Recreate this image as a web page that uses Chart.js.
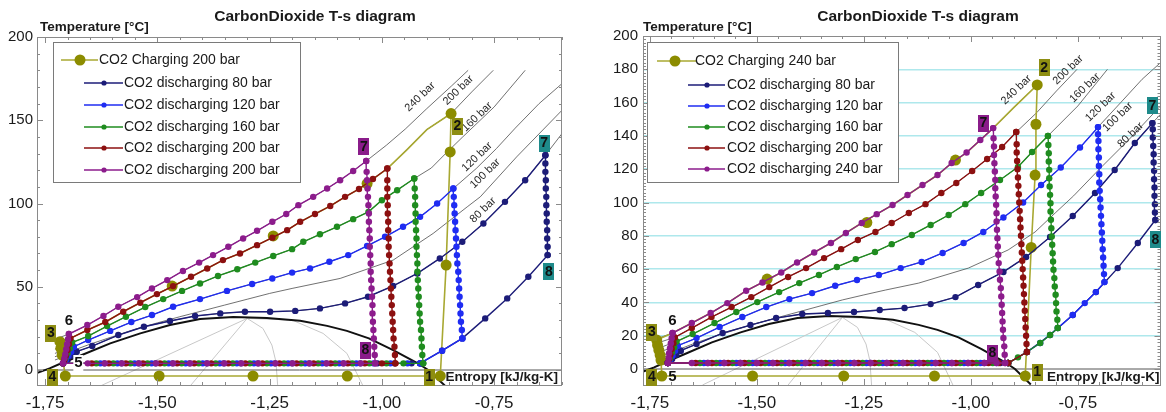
<!DOCTYPE html>
<html>
<head>
<meta charset="utf-8">
<title>CarbonDioxide T-s diagram</title>
<style>
  html, body { margin: 0; padding: 0; background: #fff; }
  #wrap { position: relative; width: 1166px; height: 412px; overflow: hidden; }
  canvas { position: absolute; top: 0; }
  #cL { left: 0; }
  #cR { left: 583px; }
</style>
<script src="https://cdn.jsdelivr.net/npm/chart.js@4.4.1/dist/chart.umd.min.js"></script>
</head>
<body>
<div id="wrap">
  <canvas id="cL" width="583" height="412"></canvas>
  <canvas id="cR" width="583" height="412"></canvas>
</div>
<script>
// ------------------------------------------------------------------
// Axis ticks
// ------------------------------------------------------------------
const xTickValues = [-1.75, -1.5, -1.25, -1.0, -0.75];
const yTickValuesL = [0, 50, 100, 150, 200];
const yTickValuesR = [0, 20, 40, 60, 80, 100, 120, 140, 160, 180, 200];

// ------------------------------------------------------------------
// Shared property lines (entropy kJ/kg-K, temperature °C)
// ------------------------------------------------------------------
const saturationDome = [[-1.77,-2],[-1.74,1],[-1.71,4.5],[-1.668,9],[-1.605,16],[-1.538,22],[-1.472,27],
  [-1.405,30.6],[-1.331,31.8],[-1.256,31.2],[-1.182,29.6],[-1.122,26.5],[-1.078,23.5],[-1.029,19],
  [-0.975,12],[-0.921,4.2],[-0.897,0],[-0.86,-9.3]];
const qualityLines = [
  [[-1.627,-9.6],[-1.30,31]],
  [[-1.427,-9.6],[-1.30,31]],
  [[-1.232,-9.6],[-1.236,5],[-1.245,15],[-1.265,25],[-1.30,31]],
  [[-1.30,31],[-1.20,30],[-1.131,22],[-1.078,10],[-1.042,-9.6]]
];
const zeroLine = [[-1.77,0],[-0.55,0]];

// ------------------------------------------------------------------
// Left diagram: charging at 200 bar
// ------------------------------------------------------------------
const L_EVAP_T = 4;
const L_GOLD_T = -3.6;

const lPurpleBottomS = [-1.710,-1.655,-1.617,-1.579,-1.541,-1.503,-1.465,-1.427,-1.389,-1.351,-1.313,-1.275,-1.237,-1.199,-1.161,-1.123,-1.085,-1.047,-1.015];
const lRedBottomS    = [-1.710,-1.646,-1.608,-1.570,-1.532,-1.494,-1.456,-1.418,-1.380,-1.342,-1.304,-1.266,-1.228,-1.190,-1.152,-1.114,-1.076,-1.038,-1.000,-0.970];
const lGreenBottomS  = [-1.710,-1.636,-1.598,-1.560,-1.522,-1.484,-1.446,-1.408,-1.370,-1.332,-1.294,-1.256,-1.218,-1.180,-1.142,-1.104,-1.066,-1.028,-0.990,-0.952,-0.908];
const lBlueBottomS   = [-1.710,-1.627,-1.589,-1.551,-1.513,-1.475,-1.437,-1.399,-1.361,-1.323,-1.285,-1.247,-1.209,-1.171,-1.133,-1.095,-1.057,-1.019,-0.981,-0.943,-0.915];
const lNavyBottomS   = [-1.710,-1.618,-1.580,-1.542,-1.504,-1.466,-1.428,-1.390,-1.352,-1.314,-1.276,-1.238,-1.200,-1.162,-1.124,-1.086,-1.048,-1.010,-0.972,-0.934,-0.915];

const lBlueLow = [[-0.915,4],[-0.866,11.6],[-0.821,19]];
const lNavyLow = [[-0.915,4],[-0.866,11.6],[-0.821,19],[-0.770,31],[-0.721,43],[-0.674,56],[-0.631,69]];

const lPurpleVert = [[-1.015,4],[-1.016,9],[-1.017,14],[-1.018,19],[-1.019,24],[-1.020,29],[-1.021,34],[-1.021,39],[-1.022,44],[-1.023,49],[-1.024,54],[-1.025,59],[-1.025,64],[-1.026,69],[-1.027,74],[-1.027,79],[-1.028,84],[-1.029,89],[-1.029,94],[-1.030,99],[-1.031,104],[-1.032,109],[-1.033,114],[-1.034,119],[-1.035,125.5]];
const lRedVert = [[-0.970,4],[-0.971,9],[-0.972,14],[-0.974,19],[-0.975,24],[-0.976,29],[-0.977,34],[-0.978,39],[-0.979,44],[-0.980,49],[-0.981,54],[-0.982,59],[-0.983,64],[-0.984,69],[-0.985,74],[-0.985,79],[-0.986,84],[-0.986,89],[-0.987,94],[-0.987,99],[-0.988,104],[-0.988,109],[-0.988,114],[-0.988,121]];
const lGreenVert = [[-0.908,4],[-0.910,9],[-0.911,14],[-0.912,19],[-0.913,24],[-0.915,29],[-0.916,34],[-0.917,39],[-0.918,44],[-0.919,49],[-0.920,54],[-0.921,59],[-0.921,64],[-0.922,69],[-0.923,74],[-0.923,79],[-0.924,84],[-0.925,89],[-0.925,94],[-0.926,99],[-0.926,104],[-0.927,109],[-0.928,115]];
const lBlueVert = [[-0.821,19],[-0.822,24],[-0.824,29],[-0.825,34],[-0.826,39],[-0.827,44],[-0.828,49],[-0.829,54],[-0.830,59],[-0.832,64],[-0.833,69],[-0.834,74],[-0.835,79],[-0.836,84],[-0.837,89],[-0.838,94],[-0.839,99],[-0.840,104],[-0.841,109]];
const lNavyVert = [[-0.631,69],[-0.631,74],[-0.632,79],[-0.632,84],[-0.633,89],[-0.633,94],[-0.634,99],[-0.634,104],[-0.635,109],[-0.635,114],[-0.636,119],[-0.636,124],[-0.636,129]];

const lPurpleUpper = [[-1.035,125.5],[-1.064,119.5],[-1.093,114],[-1.122,109],[-1.153,104],[-1.186,99],[-1.213,93.7],[-1.244,89],[-1.278,83.6],[-1.309,79],[-1.342,74],[-1.376,69],[-1.407,64.5],[-1.443,59.5],[-1.478,54],[-1.512,49],[-1.545,43.8],[-1.587,38],[-1.620,32.5],[-1.656,27],[-1.697,21.6]];
const lRedUpper = [[-0.988,121],[-1.020,114.7],[-1.051,108.7],[-1.082,104],[-1.115,98.5],[-1.149,93.7],[-1.182,89],[-1.211,84],[-1.244,79.5],[-1.278,75],[-1.316,70],[-1.354,66],[-1.389,61],[-1.425,56],[-1.465,50.4],[-1.501,45.6],[-1.538,40.4],[-1.576,35],[-1.616,28.8],[-1.656,24],[-1.694,19]];
const lGreenUpper = [[-0.928,115],[-0.966,108],[-1.000,102],[-1.030,95],[-1.064,90.6],[-1.100,86],[-1.138,81.5],[-1.175,77],[-1.200,72.6],[-1.242,68.5],[-1.282,64.5],[-1.322,60.5],[-1.365,56.5],[-1.405,52],[-1.445,47.5],[-1.487,42.6],[-1.527,37.8],[-1.570,32],[-1.612,26.4],[-1.654,20.4],[-1.690,16.5]];
const lBlueUpper = [[-0.841,109],[-0.877,100],[-0.915,92],[-0.953,86],[-0.993,80],[-1.033,74.5],[-1.075,69],[-1.117,65],[-1.160,61],[-1.200,58.5],[-1.244,55],[-1.289,51.7],[-1.345,47.5],[-1.405,42.6],[-1.465,38],[-1.512,33],[-1.558,28.8],[-1.605,23.5],[-1.654,18],[-1.686,14]];
const lNavyUpper = [[-0.636,129],[-0.681,114],[-0.726,101],[-0.774,88],[-0.821,77],[-0.871,67],[-0.921,58],[-0.975,50.5],[-1.031,44],[-1.082,40],[-1.138,37],[-1.193,35.5],[-1.249,35],[-1.305,35],[-1.360,34],[-1.416,32.4],[-1.472,29.4],[-1.530,26],[-1.587,21],[-1.645,14.4],[-1.680,11]];

const lPurpleDrop = [[-1.697,21.6],[-1.699,18.5],[-1.701,15.5],[-1.703,12.5],[-1.705,9.5],[-1.707,7],[-1.710,4]];
const lRedDrop = [[-1.694,19],[-1.697,15.5],[-1.700,12],[-1.704,8.5],[-1.707,6],[-1.710,4]];
const lGreenDrop = [[-1.690,16.5],[-1.695,13],[-1.700,10],[-1.705,7],[-1.710,4]];
const lBlueDrop = [[-1.686,14],[-1.692,11],[-1.698,8.5],[-1.704,6],[-1.710,4]];
const lNavyDrop = [[-1.680,11],[-1.690,8.5],[-1.700,6],[-1.710,4]];

const lGoldBottomS = [-1.705,-1.496,-1.287,-1.077,-0.870];
const lGoldRise = [[-0.870,-3.6],[-0.857,63],[-0.848,131],[-0.846,154]];
const lGoldToIsobar = [[-0.846,154],[-0.900,144.4],[-0.944,132.4],[-0.988,121]];
const lGoldToState4 = [[-1.717,17],[-1.715,13],[-1.712,9],[-1.705,-3.6]];
const lGoldMarkers = [[-1.705,-3.6],[-1.496,-3.6],[-1.287,-3.6],[-1.077,-3.6],[-0.870,-3.6],[-0.857,63],[-0.848,131],[-0.846,154],[-1.033,112],[-1.242,80.5],[-1.467,50.4],[-1.717,17],[-1.715,13],[-1.712,9]];

// isobars: lower-left start, then continuation above the compressor outlet
const lIso240 = { start: [-1.728,18.5], along: lPurpleUpper, cont: [[-1.035,125.5],[-0.990,135],[-0.948,144.7],[-0.900,157],[-0.845,170.6],[-0.808,180]] };
const lIso200 = { start: [-1.722,16], along: lRedUpper, cont: [[-0.988,121],[-0.944,132.4],[-0.900,144.4],[-0.846,154],[-0.800,167],[-0.752,180]] };
const lIso160 = { start: [-1.728,12.5], along: lGreenUpper, cont: [[-0.928,115],[-0.890,121.3],[-0.857,130.3],[-0.820,140],[-0.750,158],[-0.681,180]] };
const lIso120 = { start: [-1.728,10], along: lBlueUpper, cont: [[-0.841,109],[-0.790,121],[-0.745,133],[-0.703,145.3],[-0.650,160],[-0.599,172]] };
const lIso80  = { start: [-1.728,6], along: lNavyUpper, cont: [[-0.636,129],[-0.599,142]] };
const lIso100 = [[-1.728,8],[-1.70,10.5],[-1.65,15.5],[-1.60,20],[-1.55,24.5],[-1.50,28.3],[-1.45,32],[-1.40,35.5],[-1.35,39],[-1.30,42.5],[-1.25,46],[-1.20,49],[-1.093,55],[-0.975,66],[-0.886,82],[-0.810,98],[-0.781,104],[-0.700,128],[-0.599,156]];

const lIsobarLabels = [['240 bar',-0.915,164],['200 bar',-0.830,168],['160 bar',-0.788,152],['120 bar',-0.788,128],['100 bar',-0.770,118],['80 bar',-0.775,96]];
const lStateBoxes = [['1','gold',-0.895,-4.2],['2','gold',-0.832,146.5],['3','gold',-1.737,22.2],['4','gold',-1.734,-4.2],
  ['7','purple',-1.040,134],['8','purple',-1.037,12],['7','teal',-0.639,136.3],['8','teal',-0.628,58.9]];
const lStateTexts = [['5',-1.676,4.2],['6',-1.697,29.4]];
const lLegendLabels = ['CO2 Charging 200 bar','CO2 discharging 80 bar','CO2 discharging 120 bar','CO2 discharging 160 bar','CO2 discharging 200 bar','CO2 discharging 200 bar'];

// ------------------------------------------------------------------
// Right diagram: charging at 240 bar
// ------------------------------------------------------------------
const R_EVAP_T = 3.6;
const R_GOLD_T = -4.2;

const rPurpleBottomS = [-1.708,-1.652,-1.614,-1.576,-1.538,-1.500,-1.462,-1.424,-1.386,-1.348,-1.310,-1.272,-1.234,-1.196,-1.158,-1.120,-1.082,-1.044,-1.006,-0.968,-0.940,-0.920];
const rRedBottomS    = [-1.708,-1.643,-1.605,-1.567,-1.529,-1.491,-1.453,-1.415,-1.377,-1.339,-1.301,-1.263,-1.225,-1.187,-1.149,-1.111,-1.073,-1.035,-0.997,-0.959,-0.935,-0.913];
const rGreenBottomS  = [-1.708,-1.633,-1.595,-1.557,-1.519,-1.481,-1.443,-1.405,-1.367,-1.329,-1.291,-1.253,-1.215,-1.177,-1.139,-1.101,-1.063,-1.025,-0.987,-0.949,-0.913];
const rBlueBottomS   = [-1.708,-1.624,-1.586,-1.548,-1.510,-1.472,-1.434,-1.396,-1.358,-1.320,-1.282,-1.244,-1.206,-1.168,-1.130,-1.092,-1.054,-1.016,-0.978,-0.940,-0.913];
const rNavyBottomS   = [-1.708,-1.615,-1.577,-1.539,-1.501,-1.463,-1.425,-1.387,-1.349,-1.311,-1.273,-1.235,-1.197,-1.159,-1.121,-1.083,-1.045,-1.007,-0.969,-0.931,-0.913];

const rRedLow = [[-0.913,3.6],[-0.869,10.2]];
const rGreenLow = [[-0.913,3.6],[-0.890,7],[-0.869,10.2],[-0.838,15.6],[-0.815,20.4],[-0.797,24.6]];
const rBlueLow = [[-0.913,3.6],[-0.869,10.2],[-0.838,15.6],[-0.797,24.6],[-0.762,32.4],[-0.734,39.6],[-0.708,46.2],[-0.688,52.2]];
const rNavyLow = [[-0.913,3.6],[-0.869,10.2],[-0.815,20.4],[-0.762,32.4],[-0.708,46.2],[-0.657,60.6],[-0.610,75.7],[-0.569,89.5]];

const rPurpleVert = [[-0.920,3.6],[-0.921,8.6],[-0.922,13.6],[-0.924,18.6],[-0.925,23.6],[-0.926,28.6],[-0.927,33.6],[-0.928,38.6],[-0.929,43.6],[-0.930,48.6],[-0.932,53.6],[-0.933,58.6],[-0.935,63.6],[-0.936,68.6],[-0.937,73.6],[-0.938,78.6],[-0.939,83.6],[-0.940,88.6],[-0.940,93.6],[-0.941,98.6],[-0.942,103.6],[-0.943,108.6],[-0.943,113.6],[-0.944,118.6],[-0.945,123.6],[-0.946,128.6],[-0.946,133.6],[-0.947,138.6],[-0.948,144.7]];
const rRedVert = [[-0.869,10.2],[-0.870,15],[-0.871,20],[-0.872,25],[-0.873,30],[-0.874,35],[-0.875,40],[-0.876,45],[-0.877,50],[-0.878,55],[-0.879,60],[-0.880,65],[-0.881,70],[-0.882,75],[-0.883,80],[-0.884,85],[-0.885,90],[-0.886,95],[-0.887,100],[-0.888,105],[-0.889,110],[-0.890,115],[-0.891,120],[-0.892,125],[-0.893,130],[-0.893,135],[-0.894,142.3]];
const rGreenVert = [[-0.797,24.6],[-0.798,29.6],[-0.800,34.6],[-0.801,39.6],[-0.802,44.6],[-0.804,49.6],[-0.805,54.6],[-0.807,59.6],[-0.808,64.6],[-0.809,69.6],[-0.810,74.6],[-0.811,79.6],[-0.812,84.6],[-0.813,89.6],[-0.814,94.6],[-0.814,99.6],[-0.815,104.6],[-0.816,109.6],[-0.817,114.6],[-0.817,119.6],[-0.818,124.6],[-0.818,129.6],[-0.819,134.6],[-0.820,140]];
const rBlueVert = [[-0.688,52.2],[-0.689,57],[-0.690,62],[-0.691,67],[-0.692,72],[-0.693,77],[-0.694,82],[-0.695,87],[-0.696,92],[-0.697,97],[-0.698,102],[-0.699,107],[-0.700,112],[-0.700,117],[-0.701,122],[-0.701,127],[-0.702,132],[-0.702,137],[-0.703,141],[-0.703,145.3]];
const rNavyVert = [[-0.569,89.5],[-0.570,94],[-0.570,99],[-0.571,104],[-0.571,109],[-0.572,114],[-0.572,119],[-0.573,124],[-0.573,129],[-0.574,134],[-0.575,139],[-0.575,144],[-0.576,147.7]];

const rPurpleUpper = [[-0.948,144.7],[-0.978,137.5],[-1.010,130],[-1.045,123.7],[-1.078,116.5],[-1.113,110.5],[-1.148,104.5],[-1.183,98.5],[-1.220,93],[-1.255,87.7],[-1.292,81.7],[-1.327,75.7],[-1.366,70],[-1.406,64],[-1.443,58],[-1.487,52],[-1.525,47],[-1.569,39.6],[-1.608,33.6],[-1.652,27.6],[-1.697,21.6]];
const rRedUpper = [[-0.894,142.3],[-0.927,133.3],[-0.962,126.1],[-0.997,118.9],[-1.034,111.7],[-1.069,105.7],[-1.106,99],[-1.145,93.7],[-1.185,87.7],[-1.223,82.3],[-1.264,77.5],[-1.303,72],[-1.343,66.6],[-1.385,60.6],[-1.427,55.3],[-1.471,49.2],[-1.513,43.2],[-1.559,37.2],[-1.606,31.2],[-1.652,24.6],[-1.692,19]];
const rGreenUpper = [[-0.820,140],[-0.857,130.3],[-0.890,121.3],[-0.932,113.5],[-0.976,105.7],[-1.013,99],[-1.052,92.5],[-1.094,86.5],[-1.138,80.5],[-1.185,75],[-1.224,70.3],[-1.269,66],[-1.313,61.3],[-1.355,56.5],[-1.401,51.6],[-1.448,46.2],[-1.499,40.2],[-1.548,34.2],[-1.599,27.6],[-1.650,21],[-1.688,16.5]];
const rBlueUpper = [[-0.703,145.3],[-0.745,133],[-0.790,121],[-0.836,110.5],[-0.878,100],[-0.924,91],[-0.971,82.3],[-1.017,75.7],[-1.066,69.7],[-1.115,64.3],[-1.164,60.6],[-1.215,56.5],[-1.266,53.5],[-1.317,50],[-1.371,45.6],[-1.424,42],[-1.478,37.2],[-1.534,31.2],[-1.587,25.2],[-1.641,18.6],[-1.685,14]];
const rNavyUpper = [[-0.576,147.7],[-0.617,135.7],[-0.664,119.5],[-0.710,105.7],[-0.762,91.9],[-0.815,79.3],[-0.871,67.3],[-0.924,58.3],[-0.983,50.5],[-1.036,43.2],[-1.094,39],[-1.155,36.6],[-1.213,35.4],[-1.273,34.2],[-1.334,33.6],[-1.394,33],[-1.455,30.6],[-1.515,26.4],[-1.580,21.6],[-1.641,15],[-1.678,11]];

const rPurpleDrop = [[-1.697,21.6],[-1.699,18.5],[-1.701,15.5],[-1.703,12.5],[-1.705,9.5],[-1.706,6.5],[-1.708,3.6]];
const rRedDrop = [[-1.692,19],[-1.695,15.5],[-1.699,12],[-1.702,8.5],[-1.705,6],[-1.708,3.6]];
const rGreenDrop = [[-1.688,16.5],[-1.693,13],[-1.698,10],[-1.703,6.5],[-1.708,3.6]];
const rBlueDrop = [[-1.685,14],[-1.691,11],[-1.697,8],[-1.703,5.5],[-1.708,3.6]];
const rNavyDrop = [[-1.678,11],[-1.688,8.5],[-1.698,6],[-1.708,3.6]];

const rGoldBottomS = [-1.722,-1.510,-1.297,-1.085,-0.873];
const rGoldRise = [[-0.873,-4.2],[-0.859,73],[-0.850,116.5],[-0.848,147],[-0.845,170.6]];
const rGoldToIsobar = [[-0.845,170.6],[-0.900,157],[-0.948,144.7]];
const rGoldToState4 = [[-1.734,17.4],[-1.732,14.4],[-1.729,11.4],[-1.726,8.4],[-1.724,5.4],[-1.722,-4.2]];
const rGoldMarkers = [[-1.722,-4.2],[-1.510,-4.2],[-1.297,-4.2],[-1.085,-4.2],[-0.873,-4.2],[-0.859,73],[-0.850,116.5],[-0.848,147],[-0.845,170.6],[-1.036,125.5],[-1.243,88],[-1.476,54],[-1.734,17.4],[-1.732,14.4],[-1.729,11.4],[-1.726,8.4],[-1.724,5.4]];

const rIso240 = { start: [-1.730,18.5], along: rPurpleUpper, cont: [[-0.948,144.7],[-0.900,157],[-0.845,170.6]] };
const rIso200 = { start: [-1.728,16], along: rRedUpper, cont: [[-0.894,142.3],[-0.846,154],[-0.800,167],[-0.752,180]] };
const rIso160 = { start: [-1.730,12.5], along: rGreenUpper, cont: [[-0.820,140],[-0.750,158],[-0.681,180]] };
const rIso120 = { start: [-1.730,10], along: rBlueUpper, cont: [[-0.703,145.3],[-0.650,160],[-0.600,174],[-0.557,184]] };
const rIso80  = { start: [-1.730,6], along: rNavyUpper, cont: [[-0.576,147.7],[-0.557,153]] };
const rIso100 = [[-1.730,7.5],[-1.70,10],[-1.65,15],[-1.60,19.5],[-1.55,23.5],[-1.50,27.5],[-1.45,31],[-1.40,34.5],[-1.35,38],[-1.30,41.5],[-1.25,44.5],[-1.20,47.4],[-1.122,51.6],[-1.006,60.6],[-0.913,71.5],[-0.850,82.3],[-0.803,93.7],[-0.760,104],[-0.700,120],[-0.630,138],[-0.557,158]];

const rIsobarLabels = [['240 bar',-0.894,167.6],['200 bar',-0.773,179.6],['160 bar',-0.734,168.8],['120 bar',-0.697,157.4],['100 bar',-0.657,151.4],['80 bar',-0.627,140.5]];
const rStateBoxes = [['1','gold',-0.845,-1.8],['2','gold',-0.829,180.8],['3','gold',-1.745,22.2],['4','gold',-1.745,-4.8],
  ['7','purple',-0.971,147.7],['8','purple',-0.950,9.6],['7','teal',-0.576,158],['8','teal',-0.569,77.5]];
const rStateTexts = [['5',-1.697,-4.8],['6',-1.697,28.8]];
const rLegendLabels = ['CO2 Charging 240 bar','CO2 discharging 80 bar','CO2 discharging 120 bar','CO2 discharging 160 bar','CO2 discharging 200 bar','CO2 discharging 240 bar'];

// ------------------------------------------------------------------
// Styling
// ------------------------------------------------------------------
const FONT = '"Liberation Sans", Arial, Helvetica, sans-serif';
const COL = {
  gold: '#8c8c00', goldLine: '#a8a832', navy: '#1c1c78', blue: '#1f2cf2', green: '#1f8c1f',
  red: '#8c1010', purple: '#8c1c8c', teal: '#1b8888', iso: '#4d4d4d', dome: '#111111',
  quality: '#c8c8c8', grid: '#aee8ec', frame: '#8a8a8a', text: '#1a1a1a'
};
const BOX_FILL = { gold: '#8e8e12', purple: '#8a1c8a', teal: '#1e8a8a' };

// ------------------------------------------------------------------
// Helpers
// ------------------------------------------------------------------
const pts = arr => arr.map(([x, y]) => ({ x, y }));
const row = (sArr, t) => sArr.map(s => ({ x: s, y: t }));
const isobar = iso => pts([iso.start, ...iso.along.slice().reverse(), ...iso.cont]);

function plainLine(data, color, width, order) {
  return { data, showLine: true, borderColor: color, borderWidth: width, pointRadius: 0,
           pointHoverRadius: 0, order, tension: 0, fill: false };
}
function cycle(data, color, order) {
  return { data, showLine: true, borderColor: color, borderWidth: 1.4, pointRadius: 3.2,
           pointBackgroundColor: color, pointBorderWidth: 0, pointHoverRadius: 0, order, tension: 0 };
}
const fmtX = v => v.toFixed(2).replace('.', ',');

function buildDatasets(P) {
  const ds = [];
  qualityLines.forEach(q => ds.push(plainLine(pts(q), COL.quality, 1, 40)));
  ds.push(plainLine(pts(zeroLine), '#555', 1, 39));
  P.isobars.forEach(iso => ds.push(plainLine(Array.isArray(iso) ? pts(iso) : isobar(iso), COL.iso, 0.8, 30)));
  ds.push(plainLine(pts(saturationDome), COL.dome, 2, 25));
  ds.push(plainLine(P.goldPath, COL.goldLine, 1.6, 20));
  ds.push({ data: pts(P.goldMarkers), showLine: false, pointRadius: 5.5, pointBackgroundColor: COL.gold,
            pointBorderWidth: 0, pointHoverRadius: 0, order: 19 });
  ds.push(cycle(P.navy, COL.navy, 5));
  ds.push(cycle(P.blue, COL.blue, 4));
  ds.push(cycle(P.green, COL.green, 3));
  ds.push(cycle(P.red, COL.red, 2));
  ds.push(cycle(P.purple, COL.purple, 1));
  return ds;
}

// decorations drawn on the canvas around and over the plot
function makeDecor(P) {
  return {
    id: 'decor' + P.id,
    afterDatasetsDraw(chart) {
      const ctx = chart.ctx, a = chart.chartArea;
      const xs = chart.scales.x, ys = chart.scales.y;
      ctx.save();

      // frame
      ctx.strokeStyle = COL.frame; ctx.lineWidth = 1;
      ctx.strokeRect(Math.round(a.left) + 0.5, Math.round(a.top) + 0.5,
                     Math.round(a.right - a.left) - 1, Math.round(a.bottom - a.top));

      // inward tick marks
      ctx.beginPath();
      for (let i = 0; ; i++) {
        const v = -1.75 + i * 0.05;
        if (v > xs.max + 1e-9) break;
        const px = Math.round(xs.getPixelForValue(v)) + 0.5;
        const len = (i % 5 === 0) ? 6 : 3;
        ctx.moveTo(px, a.bottom); ctx.lineTo(px, a.bottom - len);
        ctx.moveTo(px, a.top); ctx.lineTo(px, a.top + len);
      }
      for (let i = 0; ; i++) {
        const v = i * P.yMinorStep;
        if (v > ys.max + 1e-9) break;
        const py = Math.round(ys.getPixelForValue(v)) + 0.5;
        const len = (v % P.yMajorStep === 0) ? 6 : 3;
        ctx.moveTo(a.left, py); ctx.lineTo(a.left + len, py);
        ctx.moveTo(a.right, py); ctx.lineTo(a.right - len, py);
      }
      ctx.stroke();

      // isobar labels
      ctx.fillStyle = '#2a2a2a';
      ctx.font = '11px ' + FONT;
      ctx.textAlign = 'center'; ctx.textBaseline = 'middle';
      P.isobarLabels.forEach(([txt, s, t]) => {
        ctx.save();
        ctx.translate(xs.getPixelForValue(s), ys.getPixelForValue(t));
        ctx.rotate(-44 * Math.PI / 180);
        ctx.fillText(txt, 0, 0);
        ctx.restore();
      });

      // state point boxes
      ctx.font = 'bold 14px ' + FONT;
      P.stateBoxes.forEach(([txt, kind, s, t]) => {
        const cx = xs.getPixelForValue(s), cy = ys.getPixelForValue(t);
        ctx.fillStyle = BOX_FILL[kind];
        ctx.fillRect(Math.round(cx - 5.5), Math.round(cy - 8.5), 11, 17);
        ctx.fillStyle = '#111';
        ctx.fillText(txt, cx, cy + 0.5);
      });
      ctx.font = 'bold 15px ' + FONT;
      P.stateTexts.forEach(([txt, s, t]) => {
        const cx = xs.getPixelForValue(s), cy = ys.getPixelForValue(t);
        if (P.id === 'L' && txt === '5') {
          ctx.fillStyle = '#fff';
          ctx.fillRect(cx - 5, cy - 8, 10, 16);
        }
        ctx.fillStyle = '#111';
        ctx.fillText(txt, cx, cy);
      });

      // titles
      ctx.fillStyle = COL.text;
      ctx.font = 'bold 15.5px ' + FONT;
      ctx.textAlign = 'center';
      ctx.fillText('CarbonDioxide T-s diagram', P.titleX, 17);
      ctx.font = 'bold 13.5px ' + FONT;
      ctx.textAlign = 'left';
      ctx.fillText('Temperature [°C]', a.left + P.yTitleDx, 27);
      ctx.textAlign = 'right';
      ctx.fillText('Entropy [kJ/kg-K]', a.right - P.xTitleDx, a.bottom - 8);

      // legend
      const L = P.legend;
      ctx.fillStyle = '#fff';
      ctx.fillRect(L.x, L.y, L.w, L.h);
      ctx.strokeStyle = '#7a7a7a'; ctx.lineWidth = 1;
      ctx.strokeRect(L.x + 0.5, L.y + 0.5, L.w, L.h);
      const colors = [[COL.goldLine, COL.gold], [COL.navy, COL.navy], [COL.blue, COL.blue],
                      [COL.green, COL.green], [COL.red, COL.red], [COL.purple, COL.purple]];
      ctx.font = '14px ' + FONT;
      ctx.textBaseline = 'middle';
      ctx.textAlign = 'left';
      P.legendLabels.forEach((txt, i) => {
        const y = L.rows[i];
        const g = i === 0 ? L.first : L.other;
        ctx.strokeStyle = colors[i][0]; ctx.lineWidth = 1.5;
        ctx.beginPath(); ctx.moveTo(g.x0, y); ctx.lineTo(g.x1, y); ctx.stroke();
        ctx.fillStyle = colors[i][1];
        ctx.beginPath(); ctx.arc(g.m, y, i === 0 ? 5.5 : 2.6, 0, Math.PI * 2); ctx.fill();
        ctx.fillStyle = COL.text;
        ctx.fillText(txt, g.t, y + 0.5);
      });
      ctx.restore();
    }
  };
}

function makeChart(P) {
  return new Chart(document.getElementById(P.canvas), {
    type: 'scatter',
    data: { datasets: buildDatasets(P) },
    options: {
      responsive: false, animation: false, events: [],
      layout: { padding: { top: P.padTop, right: P.padRight, left: 0, bottom: 0 } },
      plugins: { legend: { display: false }, tooltip: { enabled: false }, title: { display: false } },
      scales: {
        x: {
          type: 'linear', position: 'bottom', min: P.xMin, max: P.xMax,
          grid: { display: false, drawTicks: false }, border: { display: false },
          ticks: { color: COL.text, font: { family: FONT, size: 17 }, padding: 8, maxRotation: 0,
                   callback: v => fmtX(v) },
          afterBuildTicks: ax => { ax.ticks = xTickValues.map(v => ({ value: v })); },
          afterFit: ax => { ax.height = 27; }
        },
        y: {
          type: 'linear', position: 'left', min: P.yMin, max: P.yMax,
          grid: { drawTicks: false, lineWidth: 1.6,
                  color: c => (P.cyanGrid && c.tick && c.tick.value > 0 && c.tick.value < 200) ? COL.grid : 'rgba(0,0,0,0)' },
          border: { display: false },
          ticks: { color: COL.text, font: { family: FONT, size: 15 }, padding: P.yTickPad,
                   callback: v => String(v) },
          afterBuildTicks: ax => { ax.ticks = P.yTicks.map(v => ({ value: v })); },
          afterFit: ax => { ax.width = P.yAxisWidth; }
        }
      }
    },
    plugins: [makeDecor(P)]
  });
}

// ------------------------------------------------------------------
// Panels
// ------------------------------------------------------------------
const leftPanel = {
  id: 'L', canvas: 'cL', xMin: -1.768, xMax: -0.599, yMin: -9, yMax: 200,
  yTicks: yTickValuesL, yMinorStep: 10, yMajorStep: 50, cyanGrid: false,
  padTop: 37, padRight: 21, yAxisWidth: 37, yTickPad: 4,
  titleX: 315, yTitleDx: 3, xTitleDx: 4,
  navy:   [...row(lNavyBottomS, L_EVAP_T), ...pts(lNavyLow), ...pts(lNavyVert), ...pts(lNavyUpper), ...pts(lNavyDrop)],
  blue:   [...row(lBlueBottomS, L_EVAP_T), ...pts(lBlueLow), ...pts(lBlueVert), ...pts(lBlueUpper), ...pts(lBlueDrop)],
  green:  [...row(lGreenBottomS, L_EVAP_T), ...pts(lGreenVert), ...pts(lGreenUpper), ...pts(lGreenDrop)],
  red:    [...row(lRedBottomS, L_EVAP_T), ...pts(lRedVert), ...pts(lRedUpper), ...pts(lRedDrop)],
  purple: [...row(lPurpleBottomS, L_EVAP_T), ...pts(lPurpleVert), ...pts(lPurpleUpper), ...pts(lPurpleDrop)],
  goldPath: [...row(lGoldBottomS, L_GOLD_T), ...pts(lGoldRise), ...pts(lGoldToIsobar), ...pts(lRedUpper), ...pts(lGoldToState4)],
  goldMarkers: lGoldMarkers,
  isobars: [lIso240, lIso200, lIso160, lIso120, lIso100, lIso80],
  isobarLabels: lIsobarLabels, stateBoxes: lStateBoxes, stateTexts: lStateTexts,
  legendLabels: lLegendLabels,
  legend: { x: 53, y: 42, w: 247, h: 140, rows: [60, 83, 105, 127, 148, 170],
            first: { x0: 61, x1: 98, m: 80, t: 99 }, other: { x0: 84, x1: 123, m: 104, t: 124 } }
};

const rightPanel = {
  id: 'R', canvas: 'cR', xMin: -1.766, xMax: -0.557, yMin: -9.6, yMax: 200,
  yTicks: yTickValuesR, yMinorStep: 2, yMajorStep: 20, cyanGrid: true,
  padTop: 36, padRight: 3, yAxisWidth: 60, yTickPad: 5,
  titleX: 335, yTitleDx: 0, xTitleDx: 1,
  navy:   [...row(rNavyBottomS, R_EVAP_T), ...pts(rNavyLow), ...pts(rNavyVert), ...pts(rNavyUpper), ...pts(rNavyDrop)],
  blue:   [...row(rBlueBottomS, R_EVAP_T), ...pts(rBlueLow), ...pts(rBlueVert), ...pts(rBlueUpper), ...pts(rBlueDrop)],
  green:  [...row(rGreenBottomS, R_EVAP_T), ...pts(rGreenLow), ...pts(rGreenVert), ...pts(rGreenUpper), ...pts(rGreenDrop)],
  red:    [...row(rRedBottomS, R_EVAP_T), ...pts(rRedLow), ...pts(rRedVert), ...pts(rRedUpper), ...pts(rRedDrop)],
  purple: [...row(rPurpleBottomS, R_EVAP_T), ...pts(rPurpleVert), ...pts(rPurpleUpper), ...pts(rPurpleDrop)],
  goldPath: [...row(rGoldBottomS, R_GOLD_T), ...pts(rGoldRise), ...pts(rGoldToIsobar), ...pts(rPurpleUpper), ...pts(rGoldToState4)],
  goldMarkers: rGoldMarkers,
  isobars: [rIso240, rIso200, rIso160, rIso120, rIso100, rIso80],
  isobarLabels: rIsobarLabels, stateBoxes: rStateBoxes, stateTexts: rStateTexts,
  legendLabels: rLegendLabels,
  legend: { x: 64, y: 42, w: 251, h: 140, rows: [61, 85, 106, 127, 148, 169],
            first: { x0: 74, x1: 114, m: 92, t: 112 }, other: { x0: 105, x1: 142, m: 124, t: 144 } }
};

makeChart(leftPanel);
makeChart(rightPanel);
</script>
</body>
</html>
